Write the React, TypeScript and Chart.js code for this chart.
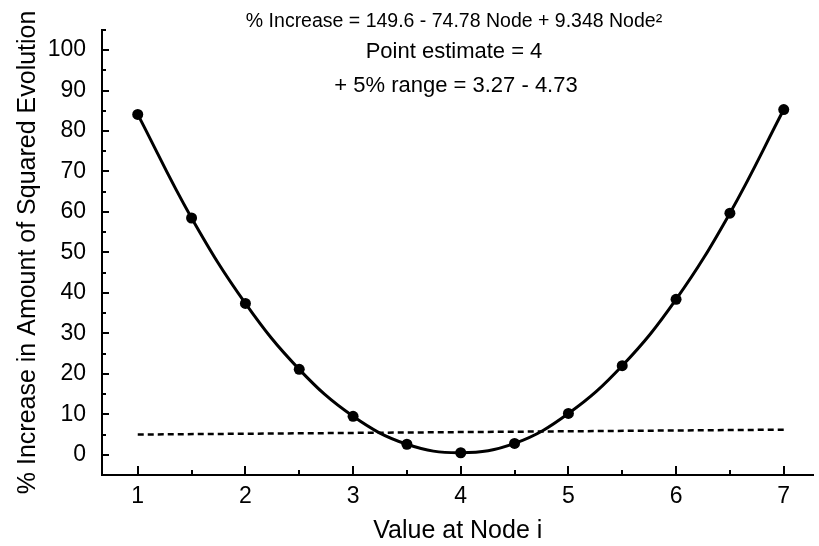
import React, { useEffect, useRef } from "react";
import { Chart, registerables } from "chart.js";

Chart.register(...registerables);

// ---- Data ----
const nodeValues = [1, 1.5, 2, 2.5, 3, 3.5, 4, 4.5, 5, 5.5, 6, 6.5, 7];
const pctIncrease = [84.1, 58.5, 37.4, 21.1, 9.5, 2.6, 0.5, 2.8, 10.2, 22.0, 38.4, 59.7, 85.3];
const thresholdX = [1, 7];
const thresholdY = [5.0, 6.2];

const xTickValues = [1, 2, 3, 4, 5, 6, 7];
const xMinorTicks = [1.5, 2.5, 3.5, 4.5, 5.5, 6.5];
const yTickValues = [0, 10, 20, 30, 40, 50, 60, 70, 80, 90, 100];
const yMinorTicks = [5, 15, 25, 35, 45, 55, 65, 75, 85, 95, 105];

const annotationLines = [
  "% Increase = 149.6 - 74.78 Node + 9.348 Node²",
  "Point estimate = 4",
  "+ 5% range = 3.27 - 4.73",
];
const xTitle = "Value at Node i";
const yTitle = "% Increase in Amount of Squared Evolution";

const FONT = "'Liberation Sans', Arial, Helvetica, sans-serif";

export default function App() {
  const ref = useRef<HTMLCanvasElement | null>(null);

  useEffect(() => {
    if (!ref.current) return;

    const ticksPlugin = {
      id: "inwardTicks",
      afterDatasetsDraw(chart: any) {
        const ctx = chart.ctx;
        const xs = chart.scales.x;
        const ys = chart.scales.y;
        const area = chart.chartArea;
        ctx.save();
        ctx.strokeStyle = "#000";
        ctx.lineWidth = 2;
        ctx.beginPath();
        for (const v of xTickValues) {
          const px = Math.round(xs.getPixelForValue(v));
          ctx.moveTo(px, area.bottom);
          ctx.lineTo(px, area.bottom - 9);
        }
        for (const v of xMinorTicks) {
          const px = Math.round(xs.getPixelForValue(v));
          ctx.moveTo(px, area.bottom);
          ctx.lineTo(px, area.bottom - 5);
        }
        for (const v of yTickValues) {
          const py = Math.round(ys.getPixelForValue(v));
          ctx.moveTo(area.left, py);
          ctx.lineTo(area.left + 7, py);
        }
        for (const v of yMinorTicks) {
          const py = Math.round(ys.getPixelForValue(v));
          ctx.moveTo(area.left, py);
          ctx.lineTo(area.left + 4, py);
        }
        ctx.stroke();

        // annotation text
        ctx.fillStyle = "#000";
        ctx.textAlign = "center";
        ctx.textBaseline = "middle";
        const cx = 454;
        ctx.font = `19.5px ${FONT}`;
        ctx.fillText(annotationLines[0], cx, 22);
        ctx.font = `22px ${FONT}`;
        ctx.fillText(annotationLines[1], cx, 52);
        ctx.fillText(annotationLines[2], cx + 2, 86);
        ctx.restore();
      },
    };

    const chart = new Chart(ref.current, {
      type: "line",
      data: {
        datasets: [
          {
            label: "fit",
            data: nodeValues.map((x, i) => ({ x, y: pctIncrease[i] })),
            borderColor: "#000",
            backgroundColor: "#000",
            borderWidth: 3,
            pointRadius: 5.5,
            pointBackgroundColor: "#000",
            pointBorderWidth: 0,
            tension: 0.4,
            fill: false,
          },
          {
            label: "threshold",
            data: thresholdX.map((x, i) => ({ x, y: thresholdY[i] })),
            borderColor: "#000",
            borderWidth: 2.5,
            borderDash: [6, 4],
            pointRadius: 0,
            fill: false,
          },
        ],
      },
      options: {
        animation: false,
        responsive: false,
        layout: { padding: { top: 11, right: 0, left: 0, bottom: 0 } },
        plugins: {
          legend: { display: false },
          tooltip: { enabled: false },
        },
        scales: {
          x: {
            type: "linear",
            min: 0.668,
            max: 7.2765,
            grid: { display: false, drawTicks: false },
            border: { display: true, color: "#000", width: 2 },
            afterBuildTicks: (scale: any) => {
              scale.ticks = xTickValues.map((v) => ({ value: v }));
            },
            afterFit: (scale: any) => {
              scale.height = 71;
            },
            ticks: {
              color: "#000",
              font: { family: FONT, size: 23 },
              padding: 8,
              maxRotation: 0,
              callback: (v: any) => String(v),
            },
            title: {
              display: true,
              text: xTitle,
              color: "#000",
              font: { family: FONT, size: 25 },
              padding: { top: 0, bottom: 0 },
            },
          },
          y: {
            type: "linear",
            min: -5,
            max: 105,
            grid: { display: false, drawTicks: false },
            border: { display: true, color: "#000", width: 2 },
            afterBuildTicks: (scale: any) => {
              scale.ticks = yTickValues.map((v) => ({ value: v }));
            },
            afterFit: (scale: any) => {
              scale.width = 102;
            },
            ticks: {
              color: "#000",
              font: { family: FONT, size: 23 },
              padding: 16,
              callback: (v: any) => String(v),
            },
            title: {
              display: true,
              text: yTitle,
              color: "#000",
              font: { family: FONT, size: 25 },
              padding: { top: 13, bottom: 0 },
            },
          },
        },
      },
      plugins: [ticksPlugin],
    });

    return () => chart.destroy();
  }, []);

  return (
    <div style={{ position: "absolute", left: 0, top: 0, width: 819, height: 546, background: "#fff" }}>
      <canvas ref={ref} width={819} height={546} style={{ display: "block" }} />
    </div>
  );
}
